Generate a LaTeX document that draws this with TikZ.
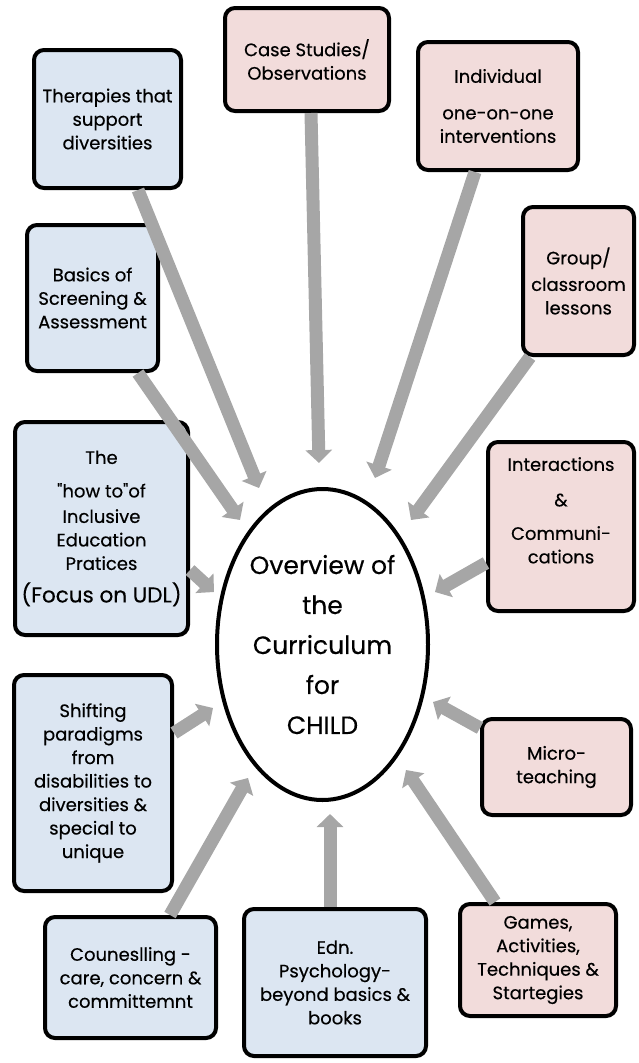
\documentclass[tikz,border=0pt]{standalone}
\usepackage{fontspec}
\setmainfont{Poppins}[FakeBold=0.4]
\newfontfamily\plainq{Poppins}[FakeBold=0.4]
\usetikzlibrary{arrows.meta,shapes.geometric}
\definecolor{boxblue}{HTML}{DCE6F2}
\definecolor{boxpink}{HTML}{F2DCDB}
\definecolor{arrgray}{HTML}{A6A6A6}
\begin{document}
\begin{tikzpicture}[x=1pt,y=-1pt,
  box/.style={draw=black, line width=4pt, rounded corners=10pt, align=center,
    inner sep=0pt, font=\fontsize{18}{23.5}\selectfont},
  bluebox/.style={box, fill=boxblue},
  pinkbox/.style={box, fill=boxpink},
  arr/.style={draw=arrgray, line width=13pt, -{Triangle[width=26pt,length=13pt]}}
]
\useasboundingbox (0,0) rectangle (638,1063);

% blue boxes (left / bottom)
\node[bluebox, minimum width=147pt, minimum height=138pt] (ther) at (107.5,119)
  {\fontsize{18}{25}\selectfont Therapies that\\support\\diversities};
\node[bluebox, minimum width=131pt, minimum height=146pt] (basics) at (92.5,298)
  {Basics of\\Screening \&\\Assessment};
\node[bluebox, minimum width=173pt, minimum height=213pt] (howto) at (101.5,528.5)
  {The\\[10pt]{\plainq "how to"of}\\[2pt]Inclusive\\Education\\Pratices\\[9pt]{\fontsize{21.5}{23.5}\selectfont (Focus on UDL)}};
\node[bluebox, minimum width=158pt, minimum height=216pt] (shift) at (93,783)
  {Shifting\\paradigms\\from\\disabilities to\\diversities \&\\special to\\unique};
\node[bluebox, minimum width=171pt, minimum height=121pt] (couns) at (130.5,977.5)
  {Couneslling -\\care, concern \&\\committemnt};
\node[bluebox, minimum width=182pt, minimum height=147pt] (edn) at (335,982.5)
  {Edn.\\Psychology-\\beyond basics \&\\books};

% pink boxes (top / right)
\node[pinkbox, minimum width=164pt, minimum height=103pt] (case) at (307,59.5)
  {Case Studies/\\Observations};
\node[pinkbox, minimum width=160pt, minimum height=128pt] (indiv) at (498,106)
  {\fontsize{18}{22}\selectfont Individual\\[13pt]one-on-one\\interventions};
\node[pinkbox, minimum width=111pt, minimum height=148pt] (group) at (578.5,281)
  {\fontsize{18}{25}\selectfont Group/\\[3pt]classroom\\lessons};
\node[pinkbox, minimum width=146pt, minimum height=169pt] (inter) at (561,526.5)
  {Interactions\\[12pt]\&\\[10pt]Communi-\\cations\\[9pt]~};
\node[pinkbox, minimum width=149pt, minimum height=96pt] (micro) at (556.5,767)
  {Micro-\\teaching};
\node[pinkbox, minimum width=156pt, minimum height=112pt] (games) at (538,960)
  {Games,\\Activities,\\Techniques \&\\Startegies};

% central ellipse
\node[ellipse, draw=black, fill=white, line width=4pt, minimum width=211pt,
  minimum height=311pt, inner sep=0pt, align=center,
  font=\fontsize{25}{40}\selectfont] (ov) at (322.5,644.5)
  {Overview of\\the\\Curriculum\\for\\CHILD};

% arrow tips
\coordinate (t1) at (259,488);
\coordinate (t2) at (240,520);
\coordinate (t3) at (214,592);
\coordinate (t4) at (213,708);
\coordinate (t5) at (248,778);
\coordinate (t6) at (330,814);
\coordinate (t7) at (406,770);
\coordinate (t8) at (433,702);
\coordinate (t9) at (435,592);
\coordinate (t10) at (411,520);
\coordinate (t11) at (375,478);
\coordinate (t12) at (319,463);

% arrows
\draw[arr] ([xshift=30.5pt]ther.south) -- (t1);
\draw[arr] ([xshift=45.5pt]basics.south) -- (t2);
\draw[arr] ([yshift=-41.5pt]howto.east) -- (t3);
\draw[arr] ([yshift=50pt]shift.east) -- (t4);
\draw[arr] ([xshift=39.5pt]couns.north) -- (t5);
\draw[arr] ([xshift=-5pt]edn.north) -- (t6);
\draw[arr] ([xshift=-43pt]games.north) -- (t7);
\draw[arr] ([yshift=39pt]micro.west) -- (t8);
\draw[arr] ([yshift=-36.5pt]inter.west) -- (t9);
\draw[arr] ([xshift=-48.5pt]group.south) -- (t10);
\draw[arr] ([xshift=-23pt]indiv.south) -- (t11);
\draw[arr] ([xshift=4pt]case.south) -- (t12);
\end{tikzpicture}
\end{document}
